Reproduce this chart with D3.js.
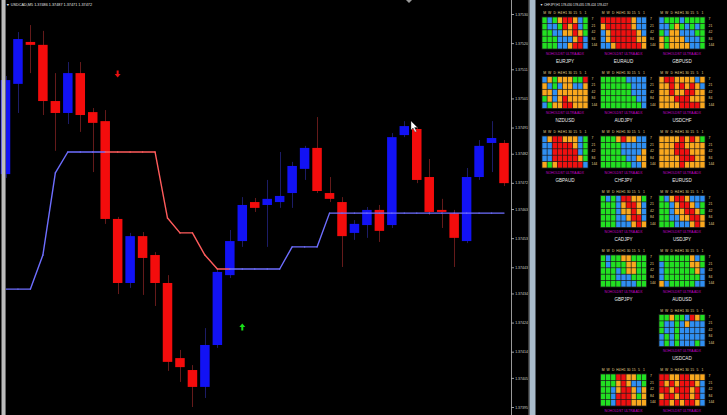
<!DOCTYPE html>
<html>
<head>
<meta charset="utf-8">
<style>
     body {
          margin: 0;
          background: #000;
          overflow: hidden;
     }
     svg {
          display: block;
          font-family: "Liberation Sans", Arial, sans-serif;
     }
     .y.axis path {
          display: none;
     }
     .y.axis line {
          stroke: #c8c8c8;
          stroke-width: 0.8;
     }
     .y.axis text {
          fill: #d4d4d4;
          font-size: 3.5px;
     }
     .tf-label, .period-label {
          fill: #e6d68c;
          font-size: 3.4px;
     }
     .ind-label {
          fill: #c800c8;
          font-size: 4px;
          text-anchor: middle;
     }
     .pair-label {
          fill: #ececec;
          font-size: 4.6px;
          text-anchor: middle;
     }
</style>
</head>
<body>
<script src="https://d3js.org/d3.v7.min.js"></script>
<script>

     // USDCAD M5 candles, oldest first
     var opens  = [1.374750, 1.375060, 1.375204, 1.375194, 1.375001, 1.374960, 1.375097, 1.374963, 1.374932, 1.374596,
                   1.374376, 1.374537, 1.374472, 1.374376, 1.374118, 1.374077, 1.374019, 1.374163, 1.374403, 1.374520,
                   1.374654, 1.374644, 1.374654, 1.374685, 1.374768, 1.374840, 1.374685, 1.374654, 1.374548, 1.374575,
                   1.374627, 1.374575, 1.374884, 1.374905, 1.374740, 1.374627, 1.374616, 1.374520, 1.374740, 1.374857,
                   1.374857];
     var highs  = [1.375087, 1.375238, 1.375262, 1.375242, 1.375097, 1.375135, 1.375135, 1.374977, 1.374970, 1.374603,
                   1.374548, 1.374551, 1.374482, 1.374403, 1.374146, 1.374094, 1.374221, 1.374421, 1.374558, 1.374671,
                   1.374668, 1.374730, 1.374826, 1.374792, 1.374847, 1.374946, 1.374740, 1.374671, 1.374592, 1.374637,
                   1.374644, 1.374891, 1.374932, 1.374912, 1.374802, 1.374665, 1.374627, 1.374771, 1.374867, 1.374932,
                   1.374867];
     var lows   = [1.374737, 1.374960, 1.375097, 1.374953, 1.374830, 1.374922, 1.374895, 1.374757, 1.374579, 1.374338,
                   1.374359, 1.374335, 1.374297, 1.374074, 1.374036, 1.373950, 1.373981, 1.374153, 1.374393, 1.374500,
                   1.374620, 1.374500, 1.374634, 1.374634, 1.374730, 1.374685, 1.374654, 1.374431, 1.374524, 1.374531,
                   1.374517, 1.374565, 1.374877, 1.374719, 1.374610, 1.374565, 1.374431, 1.374513, 1.374730, 1.374757,
                   1.374709];
     var closes = [1.375073, 1.375214, 1.375194, 1.375001, 1.374960, 1.375097, 1.374953, 1.374926, 1.374596, 1.374376,
                   1.374537, 1.374462, 1.374376, 1.374105, 1.374087, 1.374019, 1.374163, 1.374414, 1.374520, 1.374644,
                   1.374634, 1.374665, 1.374675, 1.374778, 1.374840, 1.374692, 1.374665, 1.374537, 1.374579, 1.374627,
                   1.374555, 1.374877, 1.374915, 1.374730, 1.374620, 1.374620, 1.374531, 1.374740, 1.374847, 1.374874,
                   1.374719];

     // trend line indicator, value and direction per candle (1 up / -1 down)
     var trendLine = [1.374355, 1.374355, 1.374355, 1.374472, 1.374754, 1.374826, 1.374826, 1.374826, 1.374826, 1.374826,
                      1.374826, 1.374826, 1.374826, 1.374599, 1.374548, 1.374548, 1.374472, 1.374424, 1.374424, 1.374424,
                      1.374424, 1.374424, 1.374424, 1.374500, 1.374500, 1.374500, 1.374616, 1.374616, 1.374616, 1.374616,
                      1.374616, 1.374616, 1.374616, 1.374616, 1.374616, 1.374616, 1.374616, 1.374616, 1.374616, 1.374616,
                      1.374616];
     var trendDir  = [1, 1, 1, 1, 1, 1, 1, 1, -1, -1,
                      -1, -1, -1, -1, -1, -1, -1, -1, 1, 1,
                      1, 1, 1, 1, 1, 1, 1, 1, 1, 1,
                      1, 1, 1, 1, 1, 1, 1, 1, 1, 1,
                      1];

     // signal arrows
     var arrowBars   = [9, 19];
     var arrowPrices = [1.375094, 1.374225];
     var arrowDirs   = ["down", "up"];

     var priceTicks = [1.37530, 1.37520, 1.37511, 1.37501, 1.37491, 1.37482, 1.37472, 1.37463,
                       1.37453, 1.37443, 1.37434, 1.37424, 1.37414, 1.37405, 1.37395];

     // dashboard panel (names of the bottom row fall below the window)
     var tfLabels     = ["M", "W", "D", "H4", "H1", "30", "15", "5", "1"];
     var periodLabels = ["7", "21", "42", "84", "144"];
     var pairNames = ["EURJPY", "EURAUD", "GBPUSD", "NZDUSD", "AUDJPY", "USDCHF", "GBPAUD", "CHFJPY", "EURUSD",
                      "CADJPY", "USDJPY", "GBPJPY", "AUDUSD", "USDCAD", "", ""];
     var pairCols  = [0, 1, 2, 0, 1, 2, 0, 1, 2, 1, 2, 1, 2, 2, 1, 2];
     var pairRows  = [0, 0, 0, 1, 1, 1, 2, 2, 2, 3, 3, 4, 4, 5, 6, 6];
     // G green, B blue, O orange, R red ; one string per period row, one char per timeframe
     var pairCells = [
          ["GBGORROBG", "GBBGRORBG", "GGBBOOROG", "GGGBBBORB", "GGGBBORRB"],
          ["RRRRRROBB", "ORRRRROBB", "BORRRRROB", "BORRRRROO", "BBORRRRRO"],
          ["BGGGBGGGG", "BBGOGBGBG", "GBOOBBBGG", "OGOOOBBBG", "OGOOOOBBG"],
          ["BOGOOOGGR", "OBGBOOBBO", "OOBOOOOOO", "GOBOROOOO", "BGOORROOO"],
          ["GGGGGBBBB", "GGGGGGBBB", "GGGGGGBBB", "GGGGGGGBB", "GGGGGGGGB"],
          ["ORROOOOBO", "OOROROROB", "OOROORROO", "OOORRROOO", "OOOORRRRO"],
          ["BORROOOBG", "BBRRRROBG", "BBRRRRRBG", "BBRRRRROG", "OGORRRRRB"],
          ["GGGOROOBB", "GGGGBBBBB", "GGGGBBBBO", "GGGGGBBOO", "GGGGGGBBO"],
          ["OOOOROROG", "OOORROOOO", "OOORRROOO", "OOOORRROO", "OOOOROOOO"],
          ["GBGBRROOG", "GGGBORROB", "GGGBOOROB", "GGGBBORRB", "GGGBBBORO"],
          ["GBORROBBB", "GGBORROBG", "GGBOORROG", "GGBBOORRO", "GGGBBBORO"],
          ["GBGGOOGGG", "GBGGGOOGG", "GGGBGOOGG", "GGGBBBGGG", "GGGGBBBGG"],
          ["GGGGGGOBG", "BGGGGGOOG", "BGGGGGGOB", "BGGGGGGGB", "OBGGGGGBB"],
          ["GGOGGBROG", "GBBGBOBBB", "GBBGBBBBB", "BGBGBBBBB", "BGBGBBBGB"],
          ["GGGRROOGG", "GGGOROBBG", "GGBORROBO", "GGBRRROGO", "GGBRRROOO"],
          ["RROORROOO", "RORORRROB", "RRORRRORB", "ORRORRORB", "RRORORROB"]
     ];
     var cellColors = {G: "#22e022", B: "#2f8ff2", O: "#f9a81e", R: "#ef1010"};

     var fmt = d3.format(".5f");

     var svg = d3.select("body").append("svg")
          .attr("width", 727)
          .attr("height", 415);

     svg.append("rect")
          .attr("width", 727)
          .attr("height", 415)
          .attr("fill", "#000");

     svg.append("defs").append("clipPath")
          .attr("id", "chartClip")
       .append("rect")
          .attr("x", 0).attr("y", 0)
          .attr("width", 510).attr("height", 415);

     var x = d3.scaleLinear()
          .domain([0, opens.length - 1])
          .range([5.5, 504]);

     var y = d3.scaleLinear()
          .domain([1.37395, 1.37530])
          .range([407, 14]);

     var candles = opens.map(function(o, i) {
          return {i: i, o: o, h: highs[i], l: lows[i], c: closes[i]};
     });

     var chart = svg.append("g")
          .attr("clip-path", "url(#chartClip)");

     chart.selectAll(".wick")
          .data(candles)
       .enter().append("line")
          .attr("class", "wick")
          .attr("x1", function(d) { return Math.round(x(d.i)) + 0.5; })
          .attr("x2", function(d) { return Math.round(x(d.i)) + 0.5; })
          .attr("y1", function(d) { return y(d.h); })
          .attr("y2", function(d) { return y(d.l); })
          .attr("stroke", function(d) { return d.c >= d.o ? "#1c1c66" : "#641a1a"; })
          .attr("stroke-width", 1);

     chart.selectAll(".body")
          .data(candles)
       .enter().append("rect")
          .attr("class", "body")
          .attr("x", function(d) { return x(d.i) - 4.75; })
          .attr("width", 9.5)
          .attr("y", function(d) { return y(Math.max(d.o, d.c)); })
          .attr("height", function(d) { return Math.max(1.5, Math.abs(y(d.o) - y(d.c))); })
          .attr("fill", function(d) { return d.c >= d.o ? "#1212f4" : "#f40c0c"; });

     // indicator line, each segment coloured by direction
     var segs = d3.range(trendLine.length - 1);
     chart.selectAll(".trend")
          .data(segs)
       .enter().append("line")
          .attr("class", "trend")
          .attr("x1", function(i) { return x(i); })
          .attr("y1", function(i) { return y(trendLine[i]); })
          .attr("x2", function(i) { return x(i + 1); })
          .attr("y2", function(i) { return y(trendLine[i + 1]); })
          .attr("stroke", function(i) { return trendDir[i] > 0 ? "#6e6eff" : "#ff5c5c"; })
          .attr("stroke-width", 1.4)
          .attr("stroke-linecap", "round");

     var arrowUp = "M0,-3.5L3,0L1,0L1,3.5L-1,3.5L-1,0L-3,0Z";
     chart.selectAll(".arrow")
          .data(arrowBars)
       .enter().append("path")
          .attr("class", "arrow")
          .attr("d", arrowUp)
          .attr("transform", function(b, k) {
               return "translate(" + x(b) + "," + y(arrowPrices[k]) + ")" + (arrowDirs[k] == "down" ? " scale(1,-1)" : "");
          })
          .attr("fill", function(b, k) { return arrowDirs[k] == "down" ? "#e81010" : "#18e018"; });

     // chart shift marker and mouse pointer
     svg.append("path")
          .attr("d", "M406,0L412,0L409,3Z")
          .attr("fill", "#9a9a9a");
     svg.append("path")
          .attr("d", "M411,121L411,130L413,128L415,132L416.5,131.4L414.6,127.5L417.5,127.5Z")
          .attr("fill", "#fff")
          .attr("stroke", "#333")
          .attr("stroke-width", 0.4);

     // price scale
     var yAxis = d3.axisRight(y)
          .tickValues(priceTicks)
          .tickSize(2.5)
          .tickPadding(1.2)
          .tickFormat(fmt);

     svg.append("line")
          .attr("x1", 511.5).attr("x2", 511.5)
          .attr("y1", 0).attr("y2", 415)
          .attr("stroke", "#c0c0c0")
          .attr("stroke-width", 0.8);

     svg.append("g")
          .attr("class", "y axis")
          .attr("transform", "translate(511.5,0)")
          .call(yAxis);

     // header of the chart window
     var last = candles[candles.length - 1];
     svg.append("text")
          .attr("x", 6).attr("y", 6)
          .attr("fill", "#e8e8e8")
          .attr("font-size", "3.6px")
          .attr("textLength", 86)
          .attr("lengthAdjust", "spacingAndGlyphs")
          .text("\u25BC USDCAD,M5  " + [last.o, last.h, last.l, last.c].map(fmt).join("  "));

     // window borders
     svg.append("rect")
          .attr("x", 1.5).attr("y", 0)
          .attr("width", 4).attr("height", 415)
          .attr("fill", "#bcbcbc");
     svg.append("rect")
          .attr("x", 5).attr("y", 0)
          .attr("width", 0.8).attr("height", 415)
          .attr("fill", "#6c6c6c");
     svg.append("rect")
          .attr("x", 528).attr("y", 0)
          .attr("width", 1.5).attr("height", 415)
          .attr("fill", "#3a3a3a");
     svg.append("rect")
          .attr("x", 529.5).attr("y", 0)
          .attr("width", 6).attr("height", 415)
          .attr("fill", "#a9bccb");

     // dashboard panel
     svg.append("text")
          .attr("x", 540).attr("y", 6)
          .attr("fill", "#e8e8e8")
          .attr("font-size", "3.4px")
          .attr("textLength", 68)
          .attr("lengthAdjust", "spacingAndGlyphs")
          .text("\u25BC CHFJPY,H1  178.430  178.435  178.424  178.427");

     var gx = d3.scaleBand()
          .domain(tfLabels)
          .range([0, 46]);

     var gy = d3.scaleBand()
          .domain(periodLabels)
          .range([0, 32]);

     var panels = svg.selectAll(".pair")
          .data(pairNames)
       .enter().append("g")
          .attr("class", "pair")
          .attr("transform", function(d, k) {
               return "translate(" + (542 + pairCols[k] * 58.5) + "," + (17 + pairRows[k] * 59.5) + ")";
          });

     panels.each(function(name, k) {
          var g = d3.select(this);
          var cells = [];
          pairCells[k].forEach(function(row, r) {
               row.split("").forEach(function(ch, c) {
                    cells.push({tf: tfLabels[c], p: periodLabels[r], v: ch});
               });
          });

          g.append("rect")
               .attr("x", -0.5).attr("y", -0.5)
               .attr("width", 47).attr("height", 33)
               .attr("fill", "#1a1a1a");

          g.selectAll(".cell")
               .data(cells)
            .enter().append("rect")
               .attr("class", "cell")
               .attr("x", function(d) { return gx(d.tf) + 0.35; })
               .attr("y", function(d) { return gy(d.p) + 0.35; })
               .attr("width", gx.bandwidth() - 0.7)
               .attr("height", gy.bandwidth() - 0.7)
               .attr("fill", function(d) { return cellColors[d.v]; });

          g.selectAll(".tf-label")
               .data(tfLabels)
            .enter().append("text")
               .attr("class", "tf-label")
               .attr("x", function(d) { return gx(d) + gx.bandwidth() / 2; })
               .attr("y", -3)
               .attr("text-anchor", "middle")
               .text(function(d) { return d; });

          g.selectAll(".period-label")
               .data(periodLabels)
            .enter().append("text")
               .attr("class", "period-label")
               .attr("x", 49.5)
               .attr("y", function(d) { return gy(d) + gy.bandwidth() / 2 + 0.2; })
               .text(function(d) { return d; });

          g.append("text")
               .attr("class", "ind-label")
               .attr("x", 23).attr("y", 37.5)
               .attr("textLength", 38)
               .attr("lengthAdjust", "spacingAndGlyphs")
               .text("NOHOLDST ULTRA ADX");

          if (name) {
               g.append("text")
                    .attr("class", "pair-label")
                    .attr("x", 23).attr("y", 45.5)
                    .text(name);
          }
     });

</script>
</body>
</html>
